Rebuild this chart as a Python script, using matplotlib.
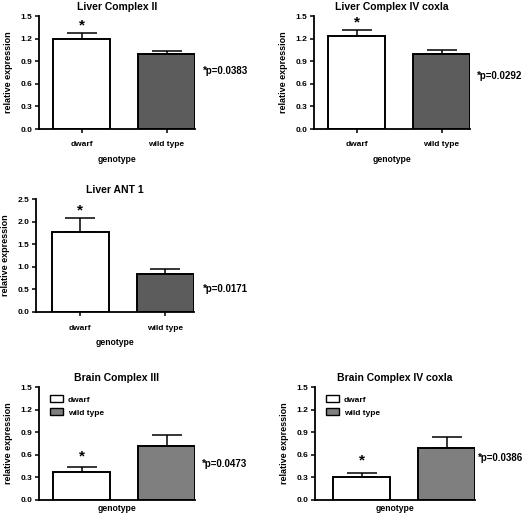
import matplotlib
matplotlib.use('Agg')
import matplotlib.pyplot as plt
from matplotlib.patches import Patch

plt.rcParams['font.family'] = ['Liberation Sans', 'DejaVu Sans']
plt.rcParams['font.weight'] = 'bold'

groups = ['dwarf', 'wild type']

titles = ['Liver Complex II', 'Liver Complex IV coxla', 'Liver ANT 1',
          'Brain Complex III', 'Brain Complex IV coxla']
means = [[1.20, 1.00], [1.24, 1.00], [1.76, 0.83], [0.37, 0.72], [0.31, 0.69]]
errs = [[0.08, 0.04], [0.08, 0.05], [0.31, 0.12], [0.07, 0.14], [0.05, 0.14]]
pvals = ['*p=0.0383', '*p=0.0292', '*p=0.0171', '*p=0.0473', '*p=0.0386']
star_y = [1.38, 1.42, 2.25, 0.58, 0.52]
p_y = [0.77, 0.70, 0.51, 0.48, 0.56]
ymax = [1.5, 1.5, 2.5, 1.5, 1.5]
yticks = [[0, 0.3, 0.6, 0.9, 1.2, 1.5], [0, 0.3, 0.6, 0.9, 1.2, 1.5],
          [0, 0.5, 1.0, 1.5, 2.0, 2.5], [0, 0.3, 0.6, 0.9, 1.2, 1.5],
          [0, 0.3, 0.6, 0.9, 1.2, 1.5]]

# pixel layout: y-axis x, left xlim, top y, bottom y, p-text x
W, H = 529, 515
layout = [(39, 0.50, 16, 129, 1.43), (314, 0.50, 16, 129, 1.42),
          (36, 0.52, 199, 312, 1.44), (39, 0.50, 387, 500, 1.42),
          (315, 0.55, 387, 500, 1.37)]
wt_colors = ['#5c5c5c', '#5c5c5c', '#5c5c5c', '#7f7f7f', '#7f7f7f']
unit = 85.0
bw = 0.67

fig = plt.figure(figsize=(W / 100, H / 100), dpi=100)

for i in range(5):
    xa, lo, top, bot, px = layout[i]
    right = 1 + bw / 2
    width_px = (right + lo) * unit
    ax = fig.add_axes([xa / W, 1 - bot / H, width_px / W, (bot - top) / H])
    x = [0, 1]
    ax.bar(x, means[i], width=bw, color=['white', wt_colors[i]],
           edgecolor='black', linewidth=1.4, zorder=2)
    ax.errorbar(x, means[i], yerr=[[0, 0], errs[i]], fmt='none',
                ecolor='black', elinewidth=1.1, capsize=10.5, capthick=1.1, zorder=1)
    ax.set_xlim(-lo, right)
    ax.set_ylim(0, ymax[i])
    ax.set_yticks(yticks[i])
    ax.set_yticklabels(['%.1f' % v for v in yticks[i]], fontsize=6, fontweight='bold')
    for s in ['top', 'right']:
        ax.spines[s].set_visible(False)
    for s in ['left', 'bottom']:
        ax.spines[s].set_linewidth(1.3)
    ax.tick_params(axis='y', length=3, width=1.1, pad=2)
    ax.set_ylabel('relative expression', fontsize=6.5, fontweight='bold', labelpad=5)
    ax.set_title(titles[i], fontsize=7.5, fontweight='bold', pad=4)
    ax.text(0, star_y[i], '*', ha='center', va='center', fontsize=11, fontweight='bold')
    ax.text(px, p_y[i], pvals[i],
            ha='left', va='center', fontsize=7, fontweight='bold', clip_on=False)
    if i < 3:
        ax.set_xticks(x)
        ax.set_xticklabels(groups, fontsize=6, fontweight='bold')
        ax.tick_params(axis='x', length=3, width=1.1, pad=6)
        ax.set_xlabel('genotype', fontsize=6.2, fontweight='bold', labelpad=5)
    else:
        ax.set_xticks([])
        ax.set_xlabel('genotype', fontsize=6.2, fontweight='bold', labelpad=3)
        handles = [Patch(facecolor='white', edgecolor='black', linewidth=1.0),
                   Patch(facecolor=wt_colors[i], edgecolor='black', linewidth=1.0)]
        ax.legend(handles, groups, loc='upper left', bbox_to_anchor=(0.04, 0.97),
                  frameon=False, prop={'size': 6, 'weight': 'bold'},
                  handlelength=1.5, handleheight=0.9, handletextpad=0.6,
                  labelspacing=0.55, borderaxespad=0.2)

fig.savefig('out.png', dpi=100)
